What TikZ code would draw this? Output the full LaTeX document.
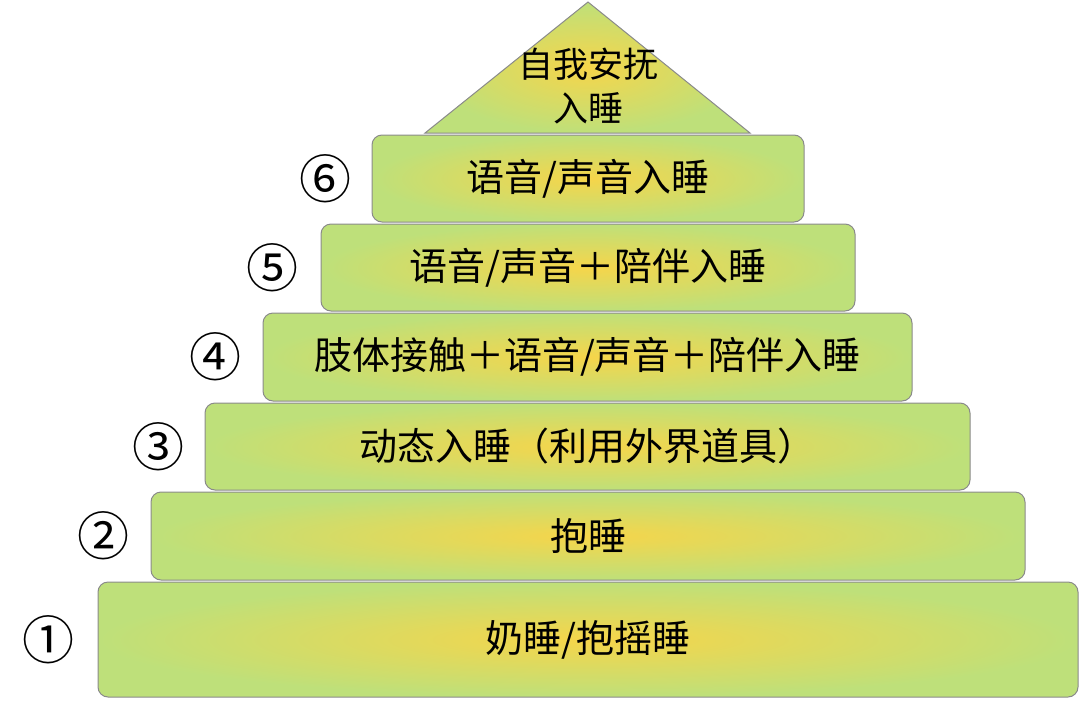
\documentclass[tikz,border=0pt]{standalone}
\usepackage{fontspec}
\setmainfont{Noto Sans CJK SC}
\usetikzlibrary{shapes.geometric}
\definecolor{gin}{HTML}{F6D54A}
\definecolor{gout}{HTML}{BEE07A}
\definecolor{edge}{HTML}{8A8A8A}
\tikzset{
  tier/.style={draw=edge,line width=1pt,rounded corners=10pt,inner color=gin,outer color=gout},
  lab/.style={font=\fontsize{38}{40}\selectfont,text=black,align=center},
  num/.style={font=\fontsize{52}{52}\selectfont,text=black}
}
\begin{document}
\begin{tikzpicture}[x=1pt,y=-1pt]
\useasboundingbox (0,0) rectangle (1080,702);
\def\tierbox#1#2#3#4#5#6#7#8{%
  \path[tier] (#2,#3) rectangle (#4,#5);
  \node[lab] (t#1) at ({(#2+#4)/2},{(#3+#5)/2}) {#6};
  \node[num] (n#1) at (#7,{(#3+#5)/2}) {#8};}
\tierbox{1}{98}{582}{1078}{697}{奶睡/抱摇睡}{48}{①}
\tierbox{2}{151}{492}{1025}{580}{抱睡}{103}{②}
\tierbox{3}{205}{403}{970}{490}{动态入睡（利用外界道具）}{158}{③}
\tierbox{4}{263}{313}{912}{401}{肢体接触＋语音/声音＋陪伴入睡}{215}{④}
\tierbox{5}{321}{224}{855}{311}{语音/声音＋陪伴入睡}{272}{⑤}
\tierbox{6}{372}{135}{804}{222}{语音/声音入睡}{325}{⑥}
\path[draw=edge,line width=1pt,inner color=gin,outer color=gout] (588,2) -- (750,133) -- (425,133) -- cycle;
\node[lab,font=\fontsize{35}{44}\selectfont] (top) at (588,86) {自我安抚\\入睡};
\end{tikzpicture}
\end{document}
